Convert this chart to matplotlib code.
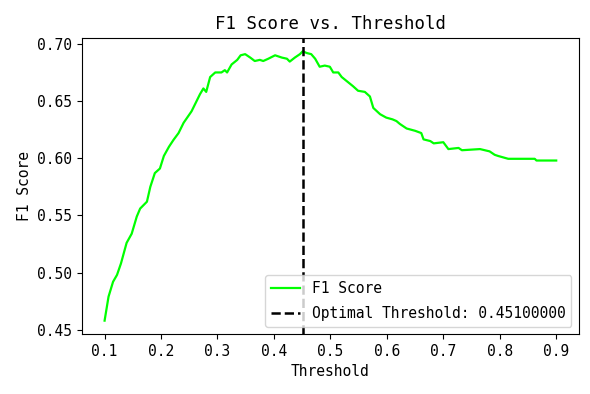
import numpy as np
import matplotlib
matplotlib.use('Agg')
import matplotlib.pyplot as plt

# Values
thresholds = [0.100, 0.107, 0.115, 0.122, 0.129, 0.139, 0.148, 0.157, 0.163, 0.175,
              0.181, 0.189, 0.198, 0.205, 0.214, 0.222, 0.231, 0.240, 0.254, 0.262,
              0.269, 0.275, 0.280, 0.287, 0.296, 0.307, 0.313, 0.317, 0.325, 0.335,
              0.341, 0.349, 0.358, 0.366, 0.375, 0.381, 0.390, 0.402, 0.414, 0.423,
              0.428, 0.437, 0.446, 0.451, 0.458, 0.466, 0.473, 0.481, 0.490, 0.499,
              0.505, 0.514, 0.520, 0.535, 0.540, 0.549, 0.561, 0.570, 0.576, 0.588,
              0.599, 0.610, 0.617, 0.623, 0.635, 0.650, 0.661, 0.665, 0.677, 0.683,
              0.700, 0.709, 0.727, 0.733, 0.765, 0.782, 0.791, 0.797, 0.815, 0.862,
              0.865, 0.900]
f1_scores = [0.458, 0.479, 0.492, 0.498, 0.508, 0.526, 0.534, 0.549, 0.556, 0.562,
             0.575, 0.587, 0.591, 0.602, 0.610, 0.616, 0.622, 0.631, 0.641, 0.649,
             0.656, 0.661, 0.658, 0.671, 0.675, 0.675, 0.677, 0.675, 0.682, 0.686,
             0.690, 0.691, 0.688, 0.685, 0.686, 0.685, 0.687, 0.690, 0.688, 0.687,
             0.6845, 0.688, 0.691, 0.6935, 0.692, 0.691, 0.687, 0.680, 0.681, 0.680,
             0.675, 0.675, 0.671, 0.665, 0.663, 0.659, 0.658, 0.654, 0.644, 0.6385,
             0.6355, 0.634, 0.6325, 0.630, 0.626, 0.624, 0.622, 0.6165, 0.615, 0.613,
             0.614, 0.608, 0.609, 0.607, 0.608, 0.606, 0.603, 0.602, 0.5995, 0.5995,
             0.598, 0.598]
best_threshold = 0.451

plt.rcParams['font.family'] = ['DejaVu Sans Mono']

fig = plt.figure(figsize=(5.9, 3.94), dpi=100)
ax = fig.add_subplot(111)
fig.subplots_adjust(left=0.139, right=0.981, bottom=0.152, top=0.904)

ax.plot(thresholds, f1_scores, color='#00ff00', linewidth=1.6, label='F1 Score')
ax.axvline(best_threshold, color='black', linestyle='--', linewidth=1.8,
           label=f'Optimal Threshold: {best_threshold:.8f}')

ax.set_yticks([0.45, 0.50, 0.55, 0.60, 0.65, 0.70])
ax.set_xticks([0.1, 0.2, 0.3, 0.4, 0.5, 0.6, 0.7, 0.8, 0.9])
ax.tick_params(labelsize=10.5)
ax.set_xlabel('Threshold', fontsize=10.5)
ax.set_ylabel('F1 Score', fontsize=10.5)
ax.set_title('F1 Score vs. Threshold', fontsize=12.5)
ax.legend(loc='lower right', fontsize=10.5, labelspacing=0.7)

fig.savefig('out.png', dpi=100)
